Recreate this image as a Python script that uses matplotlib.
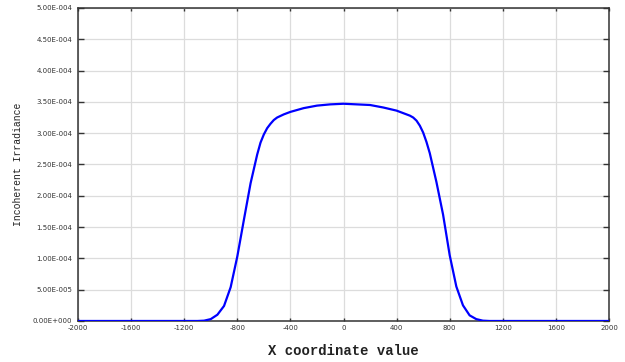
import matplotlib
matplotlib.use("Agg")
import matplotlib.pyplot as plt
from matplotlib.ticker import FuncFormatter, MultipleLocator

plt.rcParams["axes.unicode_minus"] = False

# profile
x_pos = [-2000, -1100, -1050, -1000, -950, -900, -850, -800, -750, -700,
         -650, -625, -600, -575, -550, -525, -500, -450, -400, -300, -200, -100, 0,
         100, 200, 300, 400, 450, 500, 525, 550, 575, 600, 625, 650, 700, 750,
         800, 850, 900, 950, 1000, 1050, 1100, 2000]
irr = [0.0, 0.0, 0.005, 0.03, 0.10, 0.24, 0.54, 1.03, 1.62, 2.20,
       2.66, 2.85, 2.98, 3.08, 3.15, 3.21, 3.25, 3.30, 3.34, 3.40, 3.44, 3.46, 3.47,
       3.46, 3.45, 3.41, 3.36, 3.32, 3.28, 3.25, 3.20, 3.12, 3.01, 2.86, 2.68, 2.22, 1.70,
       1.05, 0.55, 0.25, 0.09, 0.03, 0.005, 0.0, 0.0]
irr = [v * 1e-4 for v in irr]

x_ticks = list(range(-2000, 2001, 400))


def sci_fmt(v, pos):
    if v == 0:
        return "0.00E+000"
    s = f"{v:.2E}"
    mant, exp = s.split("E")
    sign = exp[0]
    return f"{mant}E{sign}{int(exp[1:]):03d}"


fig = plt.figure(figsize=(6.25, 3.62), dpi=100)
ax = fig.add_axes([0.1248, 0.1133, 0.8496, 0.8647])

ax.plot(x_pos, irr, color="#0000ff", lw=1.6, zorder=3)

ax.set_xlim(-2000, 2000)
ax.set_ylim(0, 5e-4)
ax.set_xticks(x_ticks)
ax.yaxis.set_major_locator(MultipleLocator(5e-5))
ax.yaxis.set_major_formatter(FuncFormatter(sci_fmt))

ax.grid(True, color="#dcdcdc", lw=0.9)
ax.set_axisbelow(True)
for s in ax.spines.values():
    s.set_color("#333333")
    s.set_linewidth(1.1)

ax.tick_params(axis="both", direction="in", labelsize=5, colors="#333333",
               top=True, right=True, width=1)
ax.tick_params(axis="y", length=4.5, pad=4)
ax.tick_params(axis="x", length=2.5, pad=3)

ax.set_xlabel("X coordinate value", family="Liberation Mono", fontsize=10,
              fontweight="bold", color="#222222", labelpad=9)
ax.set_ylabel("Incoherent Irradiance", family="Liberation Mono", fontsize=7,
              color="#222222", labelpad=7)

fig.savefig("out.png", dpi=100)
